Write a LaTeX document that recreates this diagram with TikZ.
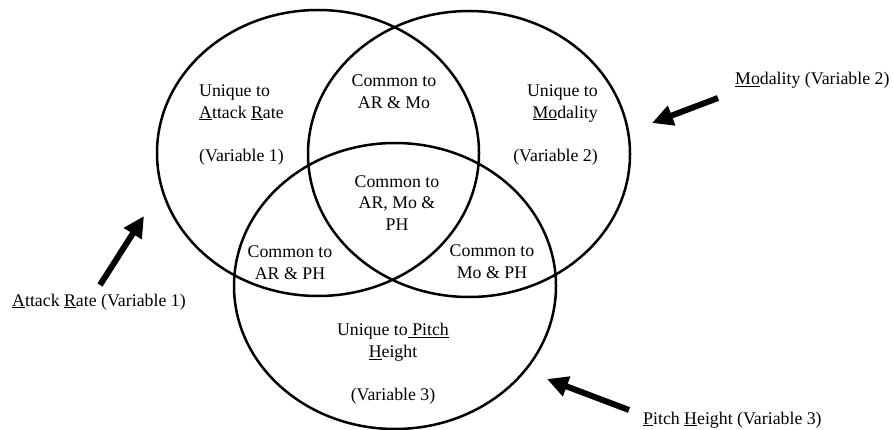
\documentclass[tikz,border=0pt]{standalone}
\usepackage{fontspec}
\setmainfont{Liberation Serif}
\usetikzlibrary{arrows.meta}
\tikzset{
    vennline/.style={black, line width=2.5pt},
    vennlabel/.style={inner sep=0pt, font=\fontsize{17.8}{21.8}\selectfont},
    bigarrow/.style={black, line width=6pt, -{Triangle[length=21pt, width=20pt]}}
}

\begin{document}
\begin{tikzpicture}[x=1pt, y=-1pt]
        \useasboundingbox (0,0) rectangle (893,430);
        % the three sets
        \foreach \cx/\cy in {318/153, 469/154, 395/286}{
            \draw[vennline] (\cx,\cy) ellipse [x radius=161pt, y radius=143pt];
        }
        % region texts
        \node[vennlabel, anchor=west, align=left] (uniqAR) at (199,125)
            {Unique to\\\underline{A}ttack \underline{R}ate\\[21.8pt](Variable 1)};
        \node[vennlabel, anchor=east, align=right] (uniqMo) at (598,125)
            {Unique to\\\underline{Mo}dality\\[21.8pt](Variable 2)};
        \node[vennlabel, align=center] (uniqPH) at (393,364)
            {Unique to\underline{\ Pitch}\\\underline{H}eight\\[21.8pt](Variable 3)};
        \node[vennlabel, align=center] (ARMo) at (394,92) {Common to\\AR \& Mo};
        \node[vennlabel, align=center] (ARMoPH) at (397,203) {Common to\\AR, Mo \&\\PH};
        \node[vennlabel, align=center] (ARPH) at (290,263) {Common to\\AR \& PH};
        \node[vennlabel, align=center] (MoPH) at (492,262) {Common to\\Mo \& PH};
        % outside names and arrows
        \node[vennlabel, anchor=west] (nameAR) at (12,302)
            {\underline{A}ttack \underline{R}ate (Variable 1)};
        \node[vennlabel, anchor=west] (nameMo) at (735,80)
            {\underline{Mo}dality (Variable 2)};
        \node[vennlabel, anchor=west] (namePH) at (643,420)
            {\underline{P}itch \underline{H}eight (Variable 3)};
        \coordinate (tailAR) at (100,285);
        \coordinate (tipAR) at (144,216);
        \coordinate (tailMo) at (718,98);
        \coordinate (tipMo) at (652,123);
        \coordinate (tailPH) at (629,410);
        \coordinate (tipPH) at (547,379);
        \draw[bigarrow] (tailAR) -- (tipAR);
        \draw[bigarrow] (tailMo) -- (tipMo);
        \draw[bigarrow] (tailPH) -- (tipPH);
    \end{tikzpicture}
\end{document}
